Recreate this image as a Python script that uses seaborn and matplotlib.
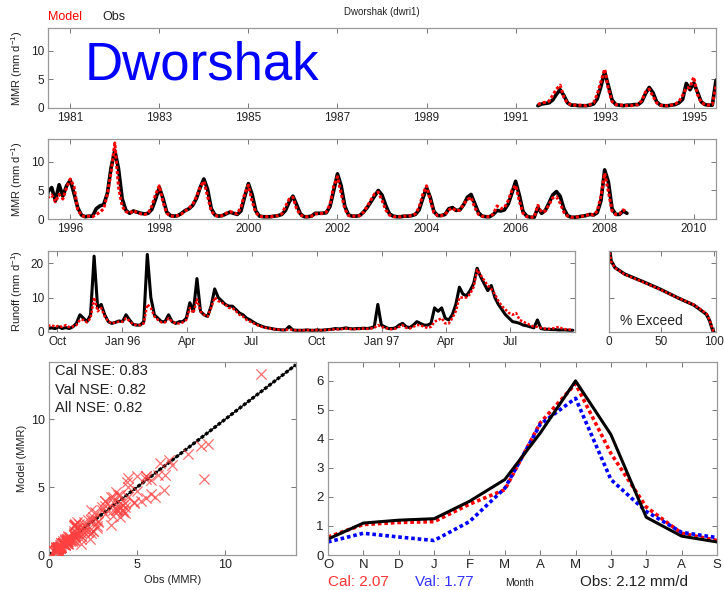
import numpy as np
import pandas as pd
import matplotlib
matplotlib.use("Agg")
import matplotlib.pyplot as plt
import seaborn as sns

# ---------------------------------------------------------------------------
# Monthly mean runoff (mm/d), consecutive months starting at 1991.5
# ---------------------------------------------------------------------------
obs_mmr = [
    0.4, 0.7, 0.8, 0.9, 1.4, 2.4, 3.2, 2.2, 0.9, 0.5, 0.5, 0.4,
    0.4, 0.4, 0.5, 0.7, 1.6, 3.8, 6.3, 3.9, 1.4, 0.6, 0.5, 0.4,
    0.5, 0.5, 0.6, 0.6, 1.1, 2.5, 3.6, 2.7, 1.1, 0.5, 0.4, 0.4,
    0.5, 0.6, 0.9, 1.5, 4.3, 3.2, 4.4, 2.8, 1.1, 0.6, 0.5, 0.5,
    4.8, 5.5, 3.2, 6.0, 4.0, 5.8, 6.8, 4.5, 2.0, 0.7, 0.4, 0.5,
    0.5, 1.8, 2.3, 2.5, 4.5, 9.0, 12.0, 8.8, 3.5, 1.5, 1.0, 1.4,
    1.2, 1.0, 0.9, 1.0, 1.7, 3.5, 5.5, 3.6, 1.2, 0.6, 0.5, 0.6,
    1.0, 1.5, 1.8, 2.4, 3.6, 5.5, 7.0, 5.2, 1.8, 0.7, 0.5, 0.6,
    0.9, 1.2, 1.0, 0.8, 1.4, 3.9, 6.2, 4.3, 1.4, 0.5, 0.4, 0.4,
    0.4, 0.5, 0.6, 0.8, 1.5, 3.0, 4.0, 2.5, 0.9, 0.4, 0.4, 0.5,
    1.0, 1.0, 1.0, 1.1, 2.2, 5.0, 7.9, 5.8, 2.2, 0.7, 0.5, 0.5,
    0.6, 1.2, 2.0, 3.0, 4.0, 5.0, 4.2, 2.4, 0.9, 0.5, 0.4, 0.4,
    0.5, 0.5, 0.6, 0.8, 1.6, 3.6, 5.5, 3.8, 1.3, 0.6, 0.6, 0.8,
    1.8, 2.0, 1.5, 1.6, 2.5, 3.8, 4.3, 2.7, 1.1, 0.5, 0.4, 0.4,
    0.8, 1.5, 1.4, 1.6, 2.6, 4.5, 6.6, 4.2, 1.3, 0.5, 0.3, 0.3,
    2.0, 1.0, 1.5, 2.8, 4.2, 4.8, 4.0, 1.8, 0.6, 0.3, 0.3, 0.4,
    0.5, 0.6, 0.8, 0.7, 1.1, 3.2, 8.6, 6.5, 1.8, 0.8, 0.8, 1.4,
    1.0,
]
mod_mmr = [
    0.6, 0.9, 1.0, 1.2, 2.2, 3.3, 4.0, 1.9, 0.8, 0.6, 0.5, 0.5,
    0.5, 0.4, 0.6, 0.9, 2.4, 4.6, 6.8, 3.3, 1.1, 0.6, 0.5, 0.5,
    0.4, 0.4, 0.5, 0.6, 1.3, 2.8, 3.3, 2.1, 0.9, 0.5, 0.4, 0.4,
    0.5, 0.7, 1.1, 2.2, 3.5, 3.6, 5.4, 2.4, 1.0, 0.6, 0.5, 0.6,
    3.8, 4.2, 3.0, 4.3, 3.5, 5.5, 7.0, 5.7, 1.7, 0.6, 0.4, 0.5,
    0.4, 0.8, 1.2, 1.8, 4.3, 8.2, 13.3, 5.6, 2.2, 1.3, 1.0, 1.5,
    1.1, 0.9, 0.8, 1.0, 2.3, 4.3, 5.8, 2.9, 1.0, 0.5, 0.5, 0.6,
    0.9, 1.4, 1.9, 2.6, 3.9, 5.6, 6.6, 4.0, 1.4, 0.6, 0.5, 0.6,
    1.0, 1.3, 1.1, 0.9, 2.1, 4.4, 5.9, 3.1, 1.1, 0.5, 0.4, 0.4,
    0.4, 0.5, 0.6, 0.9, 2.2, 3.5, 3.8, 1.8, 0.7, 0.4, 0.4, 0.5,
    0.9, 0.9, 1.0, 1.2, 2.6, 5.8, 7.4, 4.5, 1.7, 0.6, 0.5, 0.5,
    0.6, 1.2, 2.2, 3.3, 4.4, 4.7, 3.3, 1.6, 0.7, 0.4, 0.4, 0.4,
    0.5, 0.5, 0.6, 0.9, 2.0, 4.3, 5.8, 3.3, 1.1, 0.6, 0.6, 0.8,
    1.6, 1.9, 1.4, 1.6, 2.6, 3.4, 3.8, 2.0, 0.8, 0.5, 0.4, 0.4,
    0.9, 2.3, 1.8, 2.0, 3.2, 5.0, 5.9, 3.2, 1.0, 0.4, 0.3, 0.3,
    2.4, 1.2, 1.4, 2.5, 3.7, 3.9, 2.8, 1.2, 0.5, 0.3, 0.3, 0.4,
    0.5, 0.6, 0.9, 0.7, 1.4, 4.0, 8.0, 4.8, 1.4, 0.8, 0.9, 1.6,
    1.2,
]
mmr_start = 1991.5

# ---------------------------------------------------------------------------
# Daily runoff (mm/d), sampled every 5 days from 1995-09-18
# ---------------------------------------------------------------------------
daily_start = "1995-09-18"
obs_daily = [
    1.0, 1.2, 1.0, 1.5, 1.0, 1.3, 1.0, 1.5, 2.5, 5.0,
    4.0, 3.0, 5.0, 22.0, 7.0, 8.0, 5.0, 3.0, 2.5, 2.8,
    3.2, 3.0, 5.0, 3.5, 2.2, 2.0, 2.0, 3.0, 22.5, 10.0,
    5.0, 4.0, 3.0, 3.0, 5.0, 3.0, 2.5, 3.0, 3.0, 4.0,
    8.5, 6.0, 15.5, 6.0, 5.0, 4.5, 7.5, 12.5, 10.0, 9.0,
    8.0, 7.5, 7.5, 6.5, 5.5, 5.0, 4.0, 3.5, 2.8, 2.2,
    1.8, 1.4, 1.2, 1.0, 0.8, 0.7, 0.6, 0.6, 1.6, 0.6,
    0.5, 0.5, 0.5, 0.6, 0.5, 0.5, 0.6, 0.5, 0.6, 0.7,
    0.8, 1.0, 0.9, 1.0, 1.2, 1.0, 0.9, 1.0, 1.0, 1.1,
    1.0, 1.2, 1.5, 8.0, 2.0, 1.5, 1.0, 1.0, 1.2, 2.0,
    2.5, 1.5, 1.3, 2.0, 3.0, 2.5, 2.0, 2.0, 2.5, 7.0,
    6.0, 7.0, 4.0, 3.5, 5.0, 8.0, 13.0, 11.0, 10.5, 12.0,
    14.0, 18.5, 16.0, 14.0, 12.0, 13.5, 10.0, 8.0, 6.5, 5.0,
    4.0, 3.0, 2.8, 2.5, 2.0, 1.8, 1.5, 1.2, 3.5, 1.0,
    0.8, 0.8, 0.7, 0.7, 0.6, 0.6, 0.6, 0.5, 0.5,
]
mod_daily = [
    1.8, 2.0, 1.5, 1.8, 1.5, 2.0, 1.4, 1.6, 2.0, 3.5,
    3.5, 2.8, 4.0, 10.0, 6.0, 7.0, 4.5, 3.0, 2.5, 2.8,
    3.0, 3.0, 4.0, 3.2, 2.2, 2.0, 2.0, 2.5, 8.0, 7.0,
    4.5, 3.5, 2.8, 2.8, 4.0, 3.0, 2.5, 2.5, 2.8, 3.5,
    7.0, 5.5, 9.5, 6.0, 5.0, 4.5, 7.0, 10.0, 9.0, 8.5,
    8.0, 7.0, 7.0, 6.0, 5.0, 4.5, 3.5, 3.0, 2.5, 2.0,
    1.6, 1.3, 1.1, 0.9, 0.8, 0.7, 0.6, 0.6, 0.8, 0.6,
    0.5, 0.5, 0.5, 0.6, 0.5, 0.5, 0.6, 0.5, 0.6, 0.6,
    0.7, 0.8, 0.8, 0.9, 1.0, 0.9, 0.8, 0.9, 0.9, 1.0,
    0.9, 1.0, 1.2, 2.0, 1.5, 1.2, 0.9, 0.8, 1.0, 1.5,
    2.0, 1.2, 1.0, 1.5, 2.0, 2.0, 1.5, 1.2, 1.5, 3.0,
    3.5, 4.0, 2.5, 2.5, 4.0, 6.0, 10.0, 10.0, 10.0, 11.0,
    13.0, 18.0, 16.5, 15.0, 13.5, 12.5, 11.0, 9.0, 7.5, 6.5,
    5.5, 5.0, 5.5, 3.5, 3.0, 2.5, 2.0, 1.5, 1.5, 1.2,
    1.0, 0.9, 1.0, 1.2, 1.5, 1.0, 0.8, 0.7, 0.6,
]
daily_tick_dates = ["1995-10-01", "1996-01-01", "1996-04-01", "1996-07-01",
                    "1996-10-01", "1997-01-01", "1997-04-01", "1997-07-01"]
daily_tick_labels = ["Oct", "Jan 96", "Apr", "Jul", "Oct", "Jan 97", "Apr", "Jul"]

# ---------------------------------------------------------------------------
# Flow duration curve
# ---------------------------------------------------------------------------
exceed_pct = [0, 1, 2, 5.6, 15, 34, 49, 65, 81, 93, 96, 99, 100]
obs_exceed = [23.5, 23.1, 20.7, 18.7, 16.8, 14.4, 12.4, 10.0, 7.8, 5.1, 3.2, 0.3, 0.0]
mod_exceed = [23.0, 22.6, 20.5, 18.6, 16.7, 14.3, 12.3, 10.0, 7.9, 5.3, 3.4, 0.5, 0.1]

# ---------------------------------------------------------------------------
# Mean monthly climatology (water year order)
# ---------------------------------------------------------------------------
months = ["O", "N", "D", "J", "F", "M", "A", "M", "J", "J", "A", "S"]
obs_clim = [0.55, 1.10, 1.20, 1.25, 1.85, 2.60, 4.20, 6.00, 4.15, 1.30, 0.65, 0.45]
cal_clim = [0.62, 1.05, 1.12, 1.15, 1.75, 2.25, 4.55, 5.90, 3.50, 1.65, 0.75, 0.50]
val_clim = [0.45, 0.75, 0.62, 0.50, 1.15, 2.30, 4.50, 5.40, 2.60, 1.50, 0.78, 0.60]

nse_labels = ["Cal NSE: 0.83", "Val NSE: 0.82", "All NSE: 0.82"]
mean_labels = ["Cal: 2.07", "Val: 1.77", "Obs: 2.12 mm/d"]

# ---------------------------------------------------------------------------
sns.set_theme(style="ticks")
plt.rcParams["font.family"] = ["Liberation Sans", "DejaVu Sans"]
plt.rcParams["mathtext.fontset"] = "custom"
plt.rcParams["mathtext.rm"] = "Liberation Sans"
plt.rcParams["mathtext.it"] = "Liberation Sans:italic"

W, H = 724, 590
fig = plt.figure(figsize=(W / 100, H / 100), dpi=100)


def box(l, t, r, b):
    return [l / W, 1 - b / H, (r - l) / W, (b - t) / H]


def style(ax, size=8.5):
    ax.tick_params(direction="in", top=True, right=True, length=3.5, width=0.7,
                   color="#777777", labelsize=size, labelcolor="#222222", pad=3)
    for s in ax.spines.values():
        s.set_color("#999999")
        s.set_linewidth(0.9)


RED = (1.0, 0.0, 0.0)
BLUE = (0.0, 0.0, 1.0)
model_ls = (0, (1, 0.7))

mmr_time = mmr_start + np.arange(len(obs_mmr)) / 12.0
mmr = pd.DataFrame({"t": mmr_time, "obs": obs_mmr, "mod": mod_mmr})

# --- monthly time series, two rows --------------------------------------
rows = [
    (box(48, 28, 716, 108), (1980.5, 1995.5), list(range(1981, 1996, 2))),
    (box(48, 139, 716, 219), (1995.5, 2010.5), list(range(1996, 2011, 2))),
]
for rect, xl, ticks in rows:
    ax = fig.add_axes(rect)
    sns.lineplot(data=mmr, x="t", y="obs", ax=ax, color="black", linewidth=2.6,
                 estimator=None, sort=False)
    sns.lineplot(data=mmr, x="t", y="mod", ax=ax, color=RED, linewidth=2.2,
                 linestyle=model_ls, estimator=None, sort=False)
    ax.set_xlim(*xl)
    ax.set_ylim(0, 14)
    ax.set_xticks(ticks)
    ax.set_xticklabels([str(t) for t in ticks])
    ax.set_yticks([0, 5, 10])
    ax.set_xlabel("")
    ax.set_ylabel("MMR (mm d$^{-1}$)", fontsize=8, color="#222222", labelpad=4)
    style(ax)

# --- daily runoff ------------------------------------------------------------
daily = pd.DataFrame({
    "date": pd.date_range(daily_start, periods=len(obs_daily), freq="5D"),
    "obs": obs_daily, "mod": mod_daily,
})
ax3 = fig.add_axes(box(48, 251, 575, 332))
sns.lineplot(data=daily, x="date", y="obs", ax=ax3, color="black", linewidth=2.2,
             estimator=None, sort=False)
sns.lineplot(data=daily, x="date", y="mod", ax=ax3, color=RED, linewidth=1.8,
             linestyle=model_ls, estimator=None, sort=False)
ax3.set_xlim(pd.Timestamp("1995-09-18"), pd.Timestamp("1997-09-30"))
ax3.set_ylim(0, 23.5)
ax3.set_xticks(pd.to_datetime(daily_tick_dates))
ax3.set_xticklabels(daily_tick_labels)
ax3.set_yticks([0, 10, 20])
ax3.set_xlabel("")
ax3.set_ylabel("Runoff (mm d$^{-1}$)", fontsize=8, color="#222222", labelpad=4)
style(ax3)

# --- flow duration curve -------------------------------------------------------
ax4 = fig.add_axes(box(609, 251, 716, 332))
sns.lineplot(x=exceed_pct, y=obs_exceed, ax=ax4, color="black", linewidth=2.4,
             estimator=None, sort=False)
sns.lineplot(x=exceed_pct, y=mod_exceed, ax=ax4, color=RED, linewidth=1.8,
             linestyle=model_ls, estimator=None, sort=False)
ax4.set_xlim(0, 102)
ax4.set_ylim(0, 23.5)
ax4.set_xticks([0, 50, 100])
ax4.set_yticks([10, 20])
style(ax4)
ax4.tick_params(labelleft=False)
ax4.text(0.10, 0.13, "% Exceed", transform=ax4.transAxes, fontsize=10,
         color="#222222", va="center", ha="left")

# --- scatter -----------------------------------------------------------------
ax5 = fig.add_axes(box(49, 362, 296, 555))
sns.lineplot(x=[0, 14], y=[0, 14], ax=ax5, color="black", linewidth=1.0)
sns.lineplot(x=[0, 14], y=[0, 14], ax=ax5, color="black", linewidth=2.4,
             linestyle=(0, (1, 0.6)))
sns.scatterplot(data=mmr, x="obs", y="mod", ax=ax5, marker="x", color=(1.0, 0.25, 0.25),
                s=55, linewidth=0.9, alpha=0.75, zorder=3)
ax5.set_xlim(0, 14)
ax5.set_ylim(0, 14.2)
ax5.set_xticks([0, 5, 10])
ax5.set_yticks([0, 5, 10])
ax5.set_xlabel("Obs (MMR)", fontsize=8, color="#222222", labelpad=3)
ax5.set_ylabel("Model (MMR)", fontsize=8, color="#222222", labelpad=3)
style(ax5, 9)
for i, lab in enumerate(nse_labels):
    ax5.text(0.025, 0.952 - i * 0.096, lab, transform=ax5.transAxes, fontsize=10.5,
             color="#222222", va="center", ha="left")

# --- monthly climatology ---------------------------------------------------------
ax6 = fig.add_axes(box(328, 362, 717, 555))
mpos = np.arange(len(months))
sns.lineplot(x=mpos, y=cal_clim, ax=ax6, color=RED, linewidth=2.6,
             linestyle=(0, (1, 0.8)), estimator=None, sort=False)
sns.lineplot(x=mpos, y=val_clim, ax=ax6, color=BLUE, linewidth=2.6,
             linestyle=(0, (1, 0.8)), estimator=None, sort=False)
sns.lineplot(x=mpos, y=obs_clim, ax=ax6, color="black", linewidth=2.2,
             estimator=None, sort=False)
ax6.set_xlim(0, 11)
ax6.set_ylim(0, 6.65)
ax6.set_xticks(mpos)
ax6.set_xticklabels(months)
ax6.set_yticks(range(0, 7))
style(ax6, 9.5)

# --- figure-level text -----------------------------------------------------------
fig.text(382 / W, 1 - 12 / H, "Dworshak (dwri1)", ha="center", va="center",
         fontsize=7, color="#222222")
fig.text(48 / W, 1 - 17 / H, "Model", ha="left", va="center", fontsize=9, color=RED)
fig.text(102 / W, 1 - 17 / H, "Obs", ha="left", va="center", fontsize=9, color="#222222")
fig.text(85 / W, 1 - 80 / H, "Dworshak", ha="left", va="baseline", fontsize=38,
         color=BLUE)

fig.text(328 / W, 1 - 582 / H, mean_labels[0], ha="left", va="center", fontsize=11,
         color=(1.0, 0.2, 0.2))
fig.text(415 / W, 1 - 582 / H, mean_labels[1], ha="left", va="center", fontsize=11,
         color=(0.2, 0.2, 1.0))
fig.text(505 / W, 1 - 583 / H, "Month", ha="left", va="center", fontsize=7.5,
         color="#222222")
fig.text(580 / W, 1 - 582 / H, mean_labels[2], ha="left", va="center", fontsize=11,
         color="#222222")

fig.savefig("out.png", dpi=100)
